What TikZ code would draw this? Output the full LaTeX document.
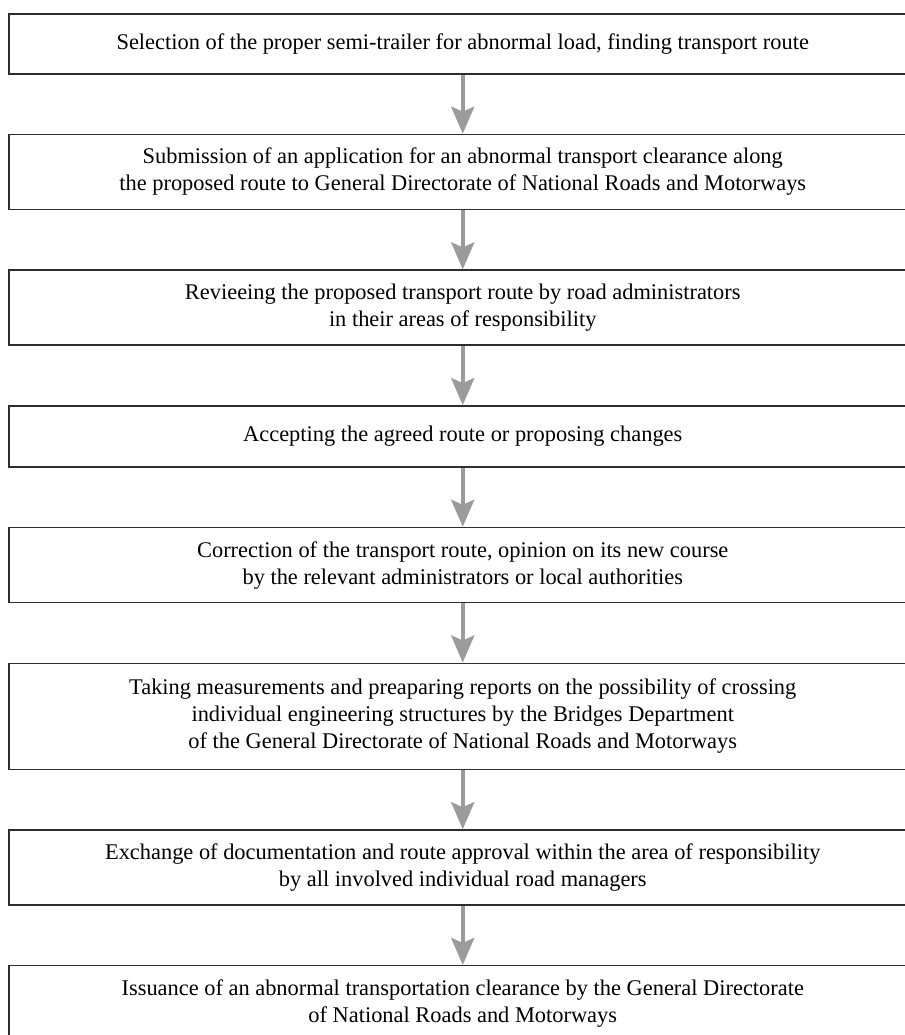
\documentclass[tikz,border=0pt]{standalone}
\usepackage{fontspec}
\setmainfont{Liberation Serif}
\usetikzlibrary{arrows.meta,positioning}

\definecolor{framegray}{HTML}{2E2E2E}
\definecolor{arrowgray}{HTML}{9B9B9B}

\tikzset{
  stepbox/.style={draw=framegray,line width=0.75pt,minimum width=454pt,minimum height=37.5pt,
    align=center,inner sep=0pt,font=\fontsize{11.2}{13.5}\selectfont},
  flowarrow/.style={-{Stealth[length=13.5pt,width=11.5pt,inset=2.5pt]},draw=arrowgray,fill=arrowgray,line width=2pt}
}

\begin{document}
\begin{tikzpicture}[node distance=29.6pt]
\useasboundingbox (0,0) rectangle (452.5pt,-517.5pt);
% steps of the procedure
\node[stepbox,minimum height=30pt,anchor=north west] (s1) at (4pt,-6.5pt)
  {Selection of the proper semi-trailer for abnormal load, finding transport route};
\node[stepbox,below=of s1] (s2)
  {Submission of an application for an abnormal transport clearance along\\
   the proposed route to General Directorate of National Roads and Motorways};
\node[stepbox,below=of s2] (s3)
  {Revieeing the proposed transport route by road administrators\\
   in their areas of responsibility};
\node[stepbox,minimum height=30.5pt,below=of s3] (s4)
  {Accepting the agreed route or proposing changes};
\node[stepbox,below=of s4] (s5)
  {Correction of the transport route, opinion on its new course\\
   by the relevant administrators or local authorities};
\node[stepbox,minimum height=53pt,below=of s5] (s6)
  {Taking measurements and preaparing reports on the possibility of crossing\\
   individual engineering structures by the Bridges Department\\
   of the General Directorate of National Roads and Motorways};
\node[stepbox,below=of s6] (s7)
  {Exchange of documentation and route approval within the area of responsibility\\
   by all involved individual road managers};
\node[stepbox,below=of s7] (s8)
  {Issuance of an abnormal transportation clearance by the General Directorate\\
   of National Roads and Motorways};
% arrows
\foreach \a/\b in {s1/s2,s2/s3,s3/s4,s4/s5,s5/s6,s6/s7,s7/s8}
  \draw[flowarrow] (\a.south) -- (\b.north);
\end{tikzpicture}
\end{document}
